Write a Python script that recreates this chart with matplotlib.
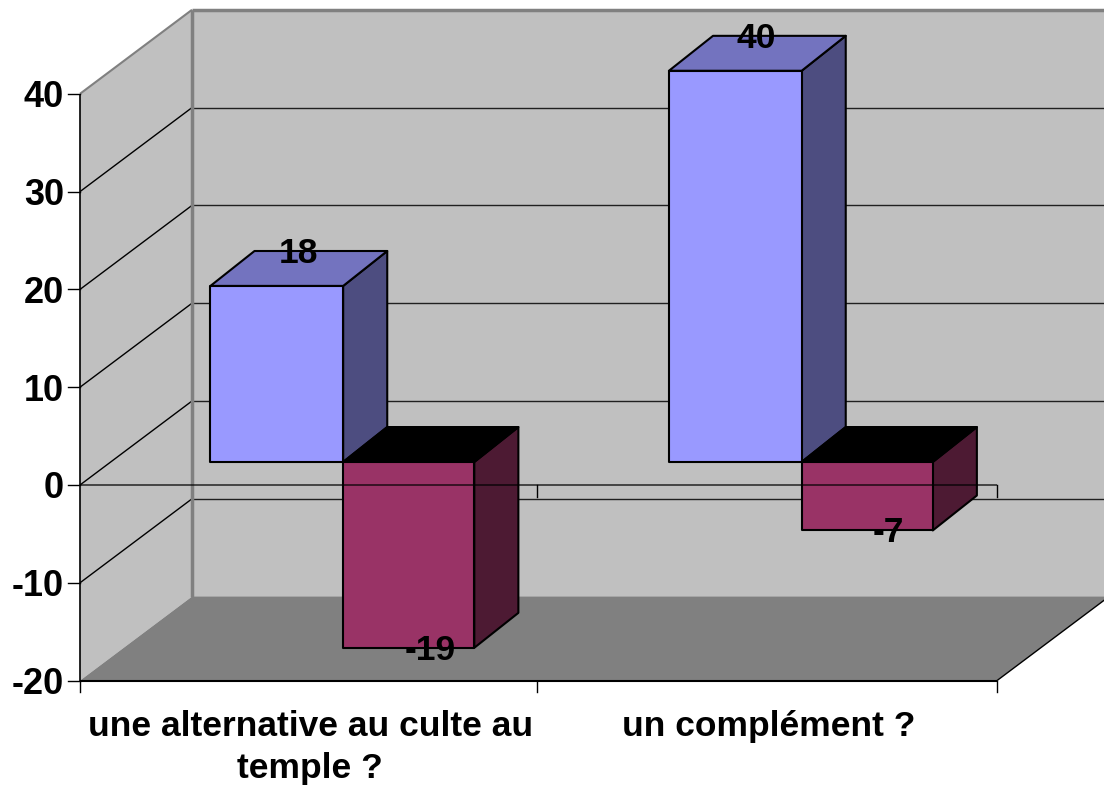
import matplotlib
matplotlib.use("Agg")
import matplotlib.pyplot as plt
from matplotlib.patches import Polygon

categories = ["une alternative au culte au\ntemple ?", "un complément ?"]
serie_bleue = [18, 40]
serie_rouge = [-19, -7]
y_ticks = [40, 30, 20, 10, 0, -10, -20]

# fake 3D: x in category units, y in value units, d = depth 0 (front) to 1 (back)
PX_CAT = 458.5
PX_VAL = 9.78
DX = 112 / PX_CAT
DY = 84 / PX_VAL
D0, D1 = 0.274, 0.69
N = len(categories)
YMIN, YMAX = min(y_ticks), max(y_ticks)


def proj(x, v, d=0.0):
    return x + d * DX, v + d * DY


def poly(ax, pts, fc, ec="black", lw=1.5, z=2):
    ax.add_patch(Polygon([proj(*p) for p in pts], closed=True, facecolor=fc,
                         edgecolor=ec, linewidth=lw, zorder=z, joinstyle="round"))


def line(ax, p1, p2, color="black", lw=1.0, z=1, alpha=1.0):
    a, b = proj(*p1), proj(*p2)
    ax.plot([a[0], b[0]], [a[1], b[1]], color=color, lw=lw, zorder=z, alpha=alpha,
            solid_capstyle="butt")


def bar3d(ax, x, w, v, front, top, side, z, back=0.0):
    # back pulls the rear corners in a little, the original is not a true oblique
    lo, hi = min(0, v), max(0, v)
    poly(ax, [(x + w, lo, D0), (x + w, hi, D0), (x + w + back, hi, D1), (x + w + back, lo, D1)], side, z=z)
    poly(ax, [(x, hi, D0), (x + w, hi, D0), (x + w + back, hi, D1), (x + back, hi, D1)], top, z=z)
    poly(ax, [(x, lo, D0), (x + w, lo, D0), (x + w, hi, D0), (x, hi, D0)], front, z=z)


fig = plt.figure(figsize=(11.04, 7.87), dpi=100, facecolor="white")
ax = fig.add_axes([0, 0, 1, 1])
ax.set_xlim(-80 / PX_CAT, (1104 - 80) / PX_CAT)
ax.set_ylim((485 - 787) / PX_VAL, 485 / PX_VAL)
ax.axis("off")

plt.rcParams["font.family"] = ["Liberation Sans", "DejaVu Sans"]

# walls and floor
poly(ax, [(0, YMIN, 0), (0, YMAX, 0), (0, YMAX, 1), (0, YMIN, 1)], "#C0C0C0", ec="none", z=0)
poly(ax, [(0, YMIN, 1), (0, YMAX, 1), (N, YMAX, 1), (N, YMIN, 1)], "#C0C0C0", ec="none", z=0)
poly(ax, [(0, YMIN, 0), (N, YMIN, 0), (N, YMIN, 1), (0, YMIN, 1)], "#808080", ec="none", z=0)

for v in y_ticks[1:-1]:
    line(ax, (0, v, 0), (0, v, 1), lw=1.0)
    line(ax, (0, v, 1), (N, v, 1), lw=1.0, color="#202020")
line(ax, (0, YMAX, 0), (0, YMAX, 1), color="#808080", lw=1.5)
line(ax, (0, YMAX, 1), (N, YMAX, 1), color="#808080", lw=2.5)
line(ax, (0, YMIN, 1), (0, YMAX, 1), color="#808080", lw=2.5)
line(ax, (N, YMIN, 0), (N, YMIN, 1), lw=1.0)

# axes and ticks
line(ax, (0, YMIN, 0), (0, YMAX, 0), lw=1.2)
line(ax, (0, YMIN, 0), (N, YMIN, 0), lw=1.5)
for v in y_ticks:
    a = proj(0, v)
    ax.plot([a[0] - 12 / PX_CAT, a[0]], [a[1], a[1]], color="black", lw=1.0, zorder=1)
    ax.text(a[0] - 16 / PX_CAT, v, str(v), ha="right", va="center_baseline",
            fontsize=26, fontweight="bold", color="black", zorder=6)
tick_x = [0, 0.9965, 2]
for t in tick_x:
    ax.plot([t, t], [YMIN, YMIN - 11 / PX_VAL], color="black", lw=1.0, zorder=1)
for t in tick_x[1:]:
    ax.plot([t, t], [0, -12 / PX_VAL], color="black", lw=1.0, zorder=1)

# bars
W1, W2 = 0.2895, 0.286
X0 = 0.2175
BACK = -2.5 / PX_CAT
BLUE = ("#9999FF", "#7373BF", "#4D4D80")
RED = ("#993366", "#000000", "#4D1A33")
for i in range(N):
    bar3d(ax, i + X0, W1, serie_bleue[i], *BLUE, z=3, back=BACK)
    bar3d(ax, i + X0 + W1, W2, serie_rouge[i], *RED, z=4, back=BACK)

# zero line runs over the bars
line(ax, (0, 0, 0), (N, 0, 0), lw=1.2, z=5, alpha=0.75)

# value labels
for i in range(N):
    x, y = proj(i + X0 + W1 / 2, serie_bleue[i], D1)
    ax.text(x - 0.5 * (D1 - D0) * DX - 2 / PX_CAT, y + 1 / PX_VAL, str(serie_bleue[i]), ha="center",
            va="center_baseline", fontsize=25.5, fontweight="bold", zorder=6)
    x, y = proj(i + X0 + W1 + W2 / 2, serie_rouge[i], D0)
    ax.text(x + 0.5 * (D1 - D0) * DX - 2 / PX_CAT, y + 1 / PX_VAL, str(serie_rouge[i]), ha="center",
            va="center_baseline", fontsize=25.5, fontweight="bold", zorder=6)

# category labels
for i, lab in enumerate(categories):
    ax.text(i + 0.5 + 1 / PX_CAT, YMIN - 29 / PX_VAL, lab, ha="center", va="top", fontsize=25.5,
            fontweight="bold", linespacing=1.38, zorder=6)

fig.savefig("out.png", dpi=100)
